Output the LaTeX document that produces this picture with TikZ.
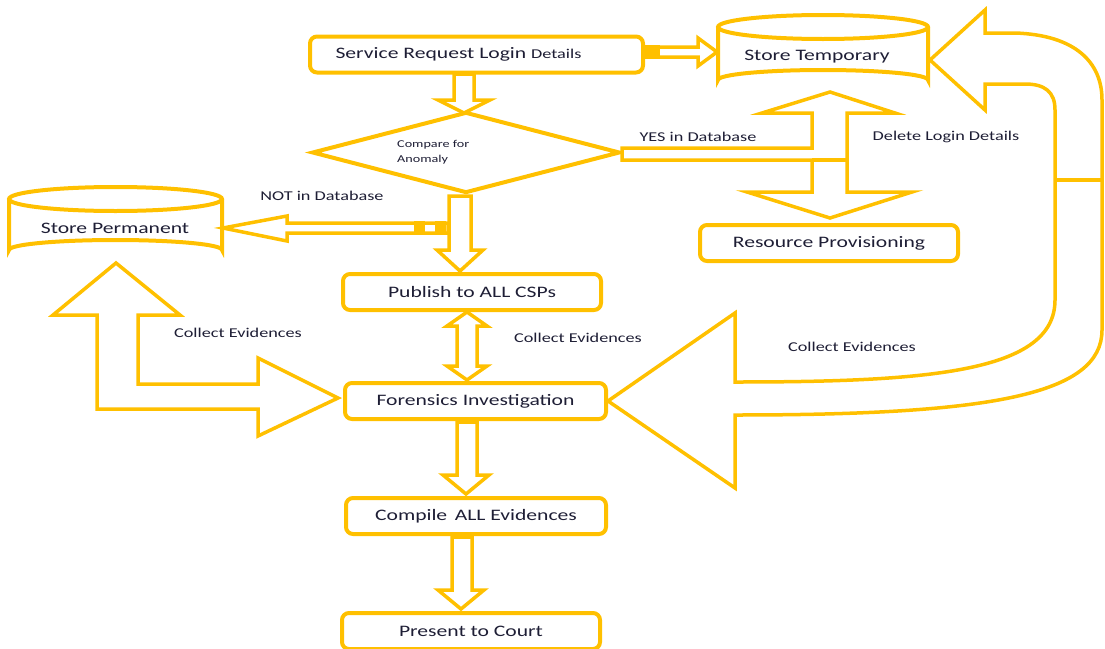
\documentclass[tikz,border=0pt]{standalone}
\usepackage{fontspec}
\setmainfont{Carlito}[FakeStretch=1.35]
\usetikzlibrary{shapes.geometric}
\definecolor{gold}{HTML}{FFC000}
\definecolor{ink}{HTML}{1E1E35}
\newcommand\fbig{\fontsize{16}{19}\selectfont}
\newcommand\fmid{\fontsize{13.5}{16}\selectfont}
\newcommand\fsml{\fontsize{10.5}{15}\selectfont}
\begin{document}
\begin{tikzpicture}[x=1pt,y=-1pt,line join=miter,
  outl/.style={draw=gold, line width=4pt},
  blk/.style={draw=gold, line width=3.5pt, fill=white},
  box/.style={outl, rounded corners=7pt, minimum width=#1, minimum height=36pt, inner sep=0pt, font=\fbig, text=ink},
  lbl/.style={font=\fmid, text=ink, inner sep=0pt},
  cyltxt/.style={font=\fbig, text=ink, inner sep=0pt}]
\useasboundingbox (0,0) rectangle (1105,648);

% ---- boxes
\node[box=333pt] (srl) at (476.5,54.5) {\hspace*{-36pt}Service Request Login {\fmid Details}};
\node[box=258pt] (rp) at (829,243) {Resource Provisioning};
\node[box=258pt] (pub) at (472,292) {Publish to ALL CSPs};
\node[box=261pt] (fi) at (475.5,401) {Forensics Investigation};
\node[box=260pt] (cae) at (476,516) {Compile\, ALL Evidences};
\node[box=258pt] (ptc) at (471,631) {Present to Court};

% ---- diamond
\node[diamond, outl, minimum width=308pt, minimum height=81pt, inner sep=0pt] (cmp) at (466,152.5) {};
\node[font=\fsml, text=ink, align=left, anchor=west, inner sep=0pt] (cmptxt) at (397,152.5) {Compare for\\Anomaly};

% ---- cylinders
\draw[outl] (718,27) -- (718,80) arc[start angle=180, end angle=360, x radius=105, y radius=10] -- (928,27);
\draw[outl] (823,27) ellipse[x radius=105, y radius=12];
\node[cyltxt] (stemp) at (817,57) {Store Temporary};
\draw[outl] (9,199) -- (9,250) arc[start angle=180, end angle=360, x radius=106.5, y radius=10] -- (222,199);
\draw[outl] (115.5,199) ellipse[x radius=106.5, y radius=12];
\node[cyltxt] (sperm) at (115,228) {Store Permanent};

% ---- block arrows
% service -> diamond
\draw[blk] (454,74) -- (454,100) -- (438,100) -- (464,113) -- (490,100) -- (474,100) -- (474,74) -- cycle;
% service -> store temporary
\draw[blk] (645,47) -- (698,47) -- (698,38) -- (717,52) -- (698,66) -- (698,57) -- (645,57) -- cycle;
\fill[gold] (643,45) rectangle (660,59);
% YES structure
\draw[blk] (622,148) -- (812,148) -- (812,113) -- (762,113) -- (830,92) -- (895,113) -- (847,113) -- (847,192) -- (912,192) -- (830,218) -- (747,192) -- (812,192) -- (812,160) -- (622,160) -- cycle;
\draw[gold, line width=3.5pt] (812,160) -- (847,160);
% NOT -> store permanent
\draw[blk] (448,223) -- (287,223) -- (287,216) -- (223,228) -- (287,241) -- (287,233) -- (448,233) -- cycle;
\fill[gold] (414,221) rectangle (425,235);
\fill[gold] (435,221) rectangle (446,235);
% diamond -> publish
\draw[blk] (449,196) -- (449,250) -- (437,250) -- (460,271) -- (483,250) -- (471,250) -- (471,196) -- cycle;
% publish <-> forensics
\draw[blk] (467,312) -- (487,326) -- (477,326) -- (477,366) -- (487,366) -- (467,380) -- (447,366) -- (457,366) -- (457,326) -- (447,326) -- cycle;
% forensics -> compile
\draw[blk] (457,422) -- (457,475) -- (443,475) -- (466,494) -- (489,475) -- (477,475) -- (477,422) -- cycle;
% compile -> present
\draw[blk] (452,537) -- (452,590) -- (438,590) -- (461,609) -- (484,590) -- (472,590) -- (472,537) -- cycle;
% store permanent <-> forensics (L arrow)
\draw[blk] (116,263) -- (180,315) -- (138,315) -- (138,384) -- (258,384) -- (258,358) -- (338,398) -- (258,436) -- (258,409) -- (97,409) -- (97,315) -- (53,315) -- cycle;
% big curved arrow forensics <-> store temporary
\draw[blk] (608,401) -- (735,313) -- (735,382)
  .. controls (930,382) and (1055,372) .. (1055,300) -- (1055,110)
  .. controls (1055,92) and (1045,84) .. (1025,84) -- (985,84) -- (985,110) -- (930,60) -- (985,10) -- (985,33) -- (1015,33)
  .. controls (1075,35) and (1102,62) .. (1102,100) -- (1102,330)
  .. controls (1102,395) and (990,415) .. (735,415) -- (735,488) -- cycle;
\draw[gold, line width=3.5pt] (1055,180) -- (1102,180);

% ---- labels
\node[lbl] (yes) at (698,137) {YES in Database};
\node[lbl] (del) at (946,137) {Delete Login Details};
\node[lbl] (not) at (322,196) {NOT in Database};
\node[lbl] (ce1) at (238,333) {Collect Evidences};
\node[lbl] (ce2) at (578,338) {Collect Evidences};
\node[lbl] (ce3) at (852,347) {Collect Evidences};
\end{tikzpicture}
\end{document}
